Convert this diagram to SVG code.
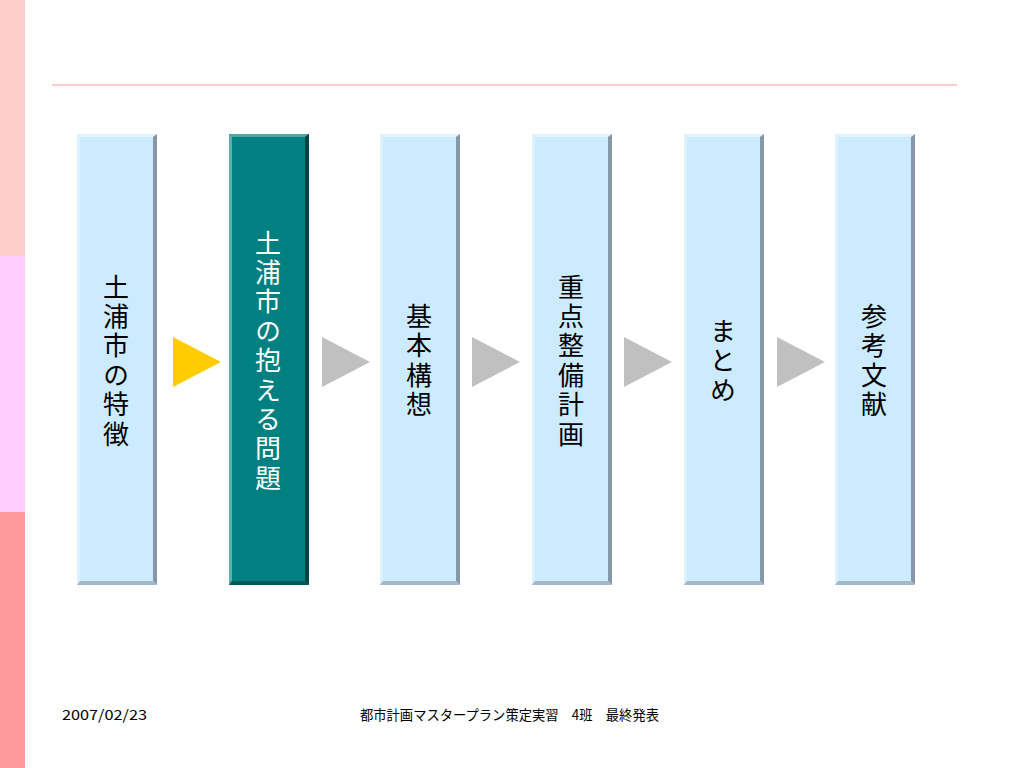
<svg xmlns="http://www.w3.org/2000/svg" width="1024" height="768" viewBox="0 0 1024 768">
<style>
.lbl{font-family:"Noto Sans CJK JP","Noto Sans CJK SC",sans-serif;font-size:26px;text-anchor:middle;writing-mode:vertical-rl;letter-spacing:3.4px}
.dark{fill:#000}
.light{fill:#fff}
.foot{font-family:"Noto Sans CJK JP","Liberation Sans",sans-serif;font-size:14px;fill:#000}
.bx{fill:#CCEBFF}
.bxT{fill:#E2F4FF}
.bxL{fill:#DDF1FF}
.bxR{fill:#8797A8}
.bxB{fill:#A3B8CC}
.tl{fill:#008080}
.tlT{fill:#4DA6A6}
.tlL{fill:#5FAFAF}
.tlR{fill:#004444}
.tlB{fill:#005A5A}
</style>
<defs>
<g id="bevL">
<rect class="bx" x="0" y="0" width="80" height="451"/>
<polygon class="bxT" points="0,0 80,0 76,3 3,3"/>
<polygon class="bxL" points="0,0 3,3 3,447 0,451"/>
<polygon class="bxR" points="80,0 80,451 76,447 76,3"/>
<polygon class="bxB" points="0,451 3,447 76,447 80,451"/>
</g>
<g id="bevT">
<rect class="tl" x="0" y="0" width="80" height="451"/>
<polygon class="tlT" points="0,0 80,0 76,3 3,3"/>
<polygon class="tlL" points="0,0 3,3 3,447 0,451"/>
<polygon class="tlR" points="80,0 80,451 76,447 76,3"/>
<polygon class="tlB" points="0,451 3,447 76,447 80,451"/>
</g>
</defs>
<rect width="1024" height="768" fill="#fff"/>
<g id="sidebar">
<rect x="0" y="0" width="25" height="256" fill="#FFCCCC"/>
<rect x="0" y="256" width="25" height="256" fill="#FFCCFF"/>
<rect x="0" y="512" width="25" height="256" fill="#FF9999"/>
</g>
<line x1="52" y1="85" x2="957" y2="85" stroke="#FFCCCC" stroke-width="2"/>

<g id="node1">
<use href="#bevL" x="77" y="134"/>
<text class="lbl dark" x="116" y="362">土浦市の特徴</text>
</g>
<g id="node2">
<use href="#bevT" x="229" y="134"/>
<text class="lbl light" x="268" y="362">土浦市の抱える問題</text>
</g>
<g id="node3">
<use href="#bevL" x="380" y="134"/>
<text class="lbl dark" x="419" y="362">基本構想</text>
</g>
<g id="node4">
<use href="#bevL" x="532" y="134"/>
<text class="lbl dark" x="571" y="362">重点整備計画</text>
</g>
<g id="node5">
<use href="#bevL" x="684" y="134"/>
<text class="lbl dark" x="723" y="362">まとめ</text>
</g>
<g id="node6">
<use href="#bevL" x="835" y="134"/>
<text class="lbl dark" x="874" y="362">参考文献</text>
</g>

<g id="connectors">
<polygon points="173,337 221,362 173,387" fill="#FFCC00"/>
<polygon points="322,337 370,362 322,387" fill="#C0C0C0"/>
<polygon points="472,337 520,362 472,387" fill="#C0C0C0"/>
<polygon points="624,337 672,362 624,387" fill="#C0C0C0"/>
<polygon points="777,337 825,362 777,387" fill="#C0C0C0"/>
</g>

<text class="foot" x="62" y="720" textLength="85" lengthAdjust="spacingAndGlyphs">2007/02/23</text>
<text class="foot" x="360" y="720" textLength="299" lengthAdjust="spacingAndGlyphs">都市計画マスタープラン策定実習　4班　最終発表</text>
</svg>
